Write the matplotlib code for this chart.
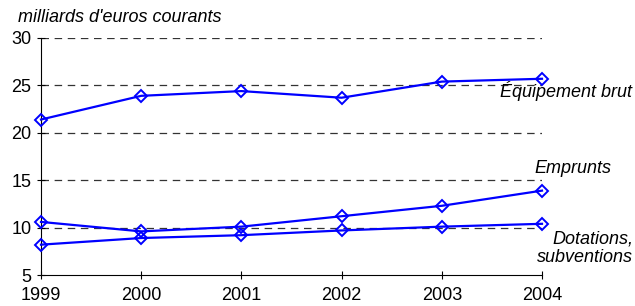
import matplotlib
matplotlib.use("Agg")
import matplotlib.pyplot as plt

years = [1999, 2000, 2001, 2002, 2003, 2004]
equipement = [21.4, 23.9, 24.4, 23.7, 25.4, 25.7]
emprunts = [10.6, 9.6, 10.1, 11.2, 12.3, 13.9]
dotations = [8.2, 8.9, 9.2, 9.7, 10.1, 10.4]
yticks = [5, 10, 15, 20, 25, 30]

plt.rcParams['font.family'] = ['Liberation Sans', 'DejaVu Sans']
FS = 13

fig = plt.figure(figsize=(6.35, 3.06), dpi=100)
ax = fig.add_axes([41/635, 1-275/306, (542-41)/635, (275-38)/306])

for yv in yticks[1:]:
    ax.axhline(yv, color='#333333', lw=0.9, dashes=(6, 4.5), zorder=1)

for s in (equipement, emprunts, dotations):
    ax.plot(years, s, color='#0000ff', lw=1.6, marker='D', markersize=6.5,
            markerfacecolor='none', markeredgecolor='#0000ff', markeredgewidth=1.4,
            clip_on=False, zorder=3)

ax.set_xlim(1999, 2004)
ax.set_ylim(5, 30)
ax.set_xticks(years)
ax.set_yticks(yticks)
ax.spines['top'].set_visible(False)
ax.spines['right'].set_visible(False)
for sp in ('left', 'bottom'):
    ax.spines[sp].set_color('#000000')
    ax.spines[sp].set_linewidth(0.8)
ax.tick_params(axis='both', direction='inout', length=6, width=0.8, labelsize=FS, colors='#000000')
ax.tick_params(axis='x', pad=6)
ax.tick_params(axis='y', pad=4)

fig.text(18/635, 1-18/306, "milliards d'euros courants", style='italic', fontsize=FS,
         ha='left', va='center')
fig.text(632/635, 1-91/306, "Équipement brut", style='italic', fontsize=FS, ha='right', va='center')
fig.text(611/635, 1-168/306, "Emprunts", style='italic', fontsize=FS, ha='right', va='center')
fig.text(633/635, 1-248.5/306, "Dotations,\nsubventions", style='italic', fontsize=FS,
         ha='right', va='center', multialignment='right', linespacing=1.15)

fig.savefig("out.png", dpi=100)
